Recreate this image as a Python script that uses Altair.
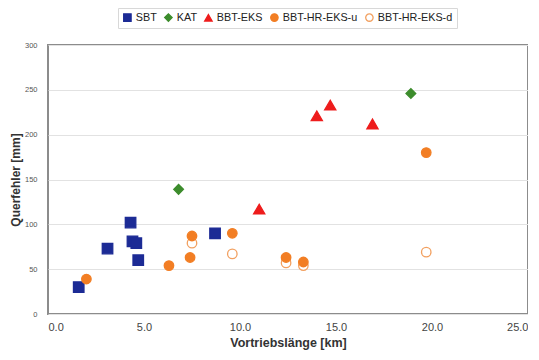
import altair as alt
import pandas as pd

series_names = ["SBT", "KAT", "BBT-EKS", "BBT-HR-EKS-u", "BBT-HR-EKS-d"]

sbt_x = [1.6, 3.1, 4.3, 4.4, 4.6, 4.7, 8.7]
sbt_y = [30, 73, 102, 81, 79, 60, 90]

kat_x = [6.8, 18.9]
kat_y = [139, 246]

eks_x = [11.0, 14.0, 14.7, 16.9]
eks_y = [117, 221, 233, 212]

hru_x = [2.0, 6.3, 7.4, 7.5, 9.6, 12.4, 13.3, 19.7]
hru_y = [39, 54, 63, 87, 90, 63, 58, 180]

hrd_x = [7.5, 9.6, 12.4, 13.3, 19.7]
hrd_y = [79, 67, 57, 54, 69]

rows = []
for name, xs, ys in [
    ("SBT", sbt_x, sbt_y),
    ("KAT", kat_x, kat_y),
    ("BBT-EKS", eks_x, eks_y),
    ("BBT-HR-EKS-u", hru_x, hru_y),
    ("BBT-HR-EKS-d", hrd_x, hrd_y),
]:
    for xv, yv in zip(xs, ys):
        rows.append({"Serie": name, "x": xv, "y": yv})
df = pd.DataFrame(rows)

fills = ["#1c2b95", "#3c8c2c", "#ee1c1c", "#f27e24", "#ffffff"]
strokes = ["#1c2b95", "#3c8c2c", "#ee1c1c", "#f27e24", "#f2a060"]
shapes = ["square", "diamond", "triangle-up", "circle", "circle"]
sizes = [110, 95, 125, 90, 90]

leg = alt.Legend(
    title=None, orient="none", direction="horizontal", columns=5,
    legendX=70, legendY=-37,
    strokeColor="#d8d8d8", fillColor="#ffffff", padding=4,
    labelFont="Liberation Sans", labelFontSize=10.8, labelColor="#222222",
    columnPadding=5, labelOffset=3, symbolStrokeWidth=1.3, symbolSize=55,
)

base = alt.Chart(df).encode(
    x=alt.X("x:Q", scale=alt.Scale(domain=[0, 25], nice=False),
            axis=alt.Axis(title="Vortriebslänge [km]", values=[0, 5, 10, 15, 20, 25],
                          format=".1f", grid=False, ticks=False, labelPadding=7,
                          labelFontSize=11, labelColor="#444444", titleFontSize=12.5,
                          titleColor="#333333", titlePadding=4, domain=False,
                          labelFont="Liberation Sans", titleFont="Liberation Sans")),
    y=alt.Y("y:Q", scale=alt.Scale(domain=[0, 300], nice=False),
            axis=alt.Axis(title="Querfehler [mm]", values=[0, 50, 100, 150, 200, 250, 300],
                          grid=True, gridColor="#e2e2e2", gridWidth=1.2, ticks=False,
                          labelPadding=11, labelFontSize=7.5, labelColor="#555555",
                          titleFontSize=12, titleColor="#333333", titlePadding=2,
                          domain=False,
                          labelFont="Liberation Sans", titleFont="Liberation Sans")),
    shape=alt.Shape("Serie:N", scale=alt.Scale(domain=series_names, range=shapes), legend=leg),
    fill=alt.Fill("Serie:N", scale=alt.Scale(domain=series_names, range=fills), legend=leg),
    stroke=alt.Stroke("Serie:N", scale=alt.Scale(domain=series_names, range=strokes), legend=leg),
)

draw_order = ["BBT-HR-EKS-d", "SBT", "KAT", "BBT-EKS", "BBT-HR-EKS-u"]
layers = []
for name in draw_order:
    s = sizes[series_names.index(name)]
    layers.append(
        base.transform_filter(alt.datum.Serie == name)
        .mark_point(filled=False, opacity=1, strokeWidth=1.3, size=s)
    )

chart = alt.layer(*layers).properties(
    width=480, height=269,
    padding={"left": 40, "top": 37, "right": 0, "bottom": 38},
    autosize="none",
).configure_view(
    stroke="#8c8c8c", strokeWidth=2
)

chart.save("out.html", embed_options={"renderer": "svg", "actions": False})
